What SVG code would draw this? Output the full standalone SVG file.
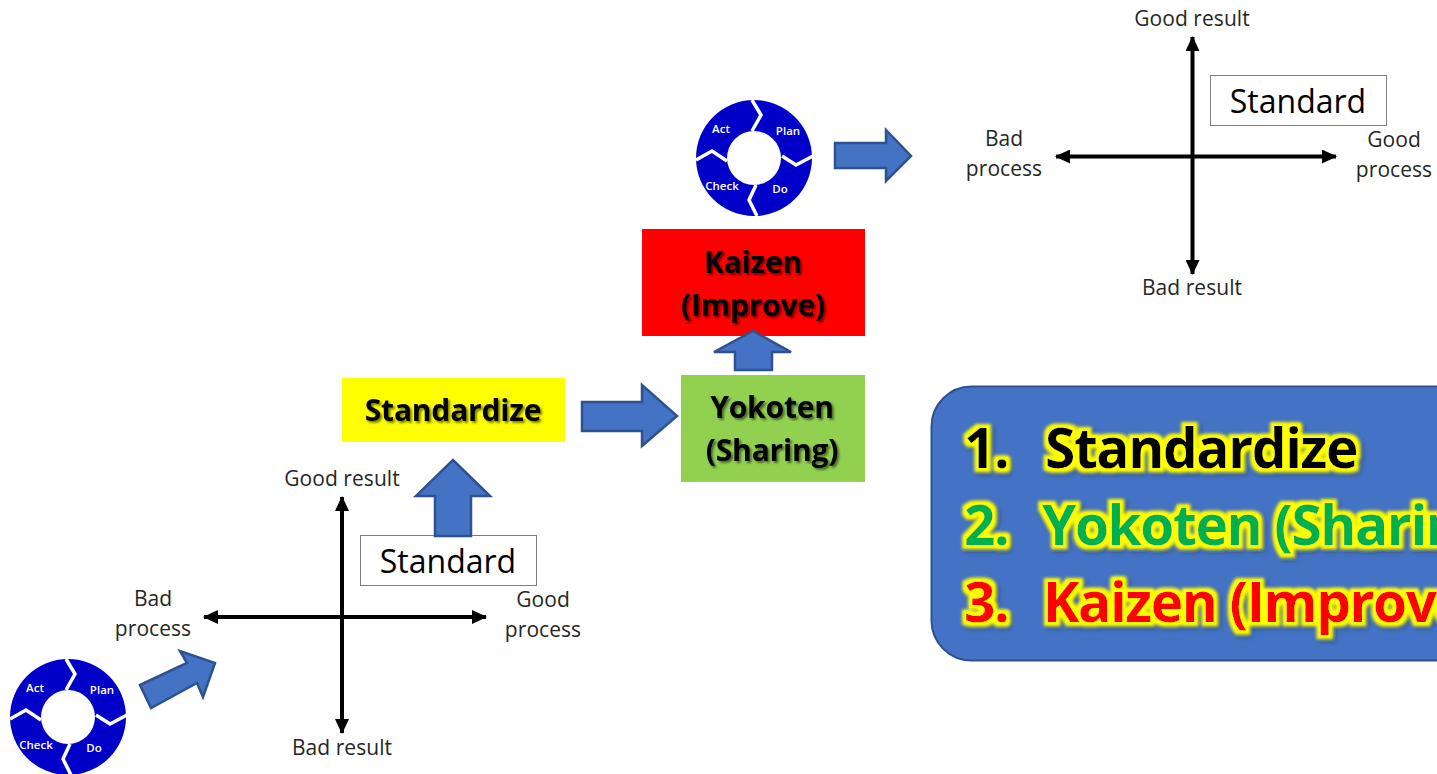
<svg xmlns="http://www.w3.org/2000/svg" width="1437" height="774" viewBox="0 0 1437 774">
<style>
text{font-family:"Open Sans","Noto Sans","Liberation Sans",sans-serif}
.ax{stroke:#000;stroke-width:4;fill:none;marker-start:url(#ah);marker-end:url(#ah)}
.blk{fill:#4472c4;stroke:#2f528f;stroke-width:2.5}
.lbl{font-size:21px;letter-spacing:.05px;fill:#262626;text-anchor:middle}
.std{font-size:32px;fill:#000;text-anchor:middle}
.nd{font-size:30px;font-weight:700;letter-spacing:-.2px;fill:#000;text-anchor:middle;filter:url(#sh)}
.big{font-size:55px;font-weight:700;letter-spacing:-1.4px;filter:url(#gl)}
.sep{fill:none;stroke:#fff;stroke-width:3.5}
.cy{font-size:11.500px;font-weight:600;fill:#fff;text-anchor:middle}
</style>
<defs>
<marker id="ah" markerUnits="userSpaceOnUse" markerWidth="16" markerHeight="14" refX="14" refY="7" orient="auto-start-reverse"><path d="M0 0L15 7L0 14Z" fill="#000"/></marker>
<filter id="sh" x="-10%" y="-20%" width="120%" height="140%"><feGaussianBlur in="SourceAlpha" stdDeviation="1.2"/><feOffset dx="1.500" dy="1.500"/><feComponentTransfer result="s"><feFuncA type="linear" slope=".5"/></feComponentTransfer><feMerge><feMergeNode in="s"/><feMergeNode in="SourceGraphic"/></feMerge></filter>
<filter id="gl" x="-10%" y="-30%" width="120%" height="160%"><feMorphology in="SourceAlpha" operator="dilate" radius="4"/><feGaussianBlur stdDeviation="1.500" result="d"/><feFlood flood-color="#ffff00"/><feComposite in2="d" operator="in" result="y"/><feGaussianBlur in="d" stdDeviation="2"/><feOffset dx="2" dy="2"/><feComponentTransfer result="s"><feFuncA type="linear" slope=".45"/></feComponentTransfer><feMerge><feMergeNode in="s"/><feMergeNode in="y"/><feMergeNode in="SourceGraphic"/></feMerge></filter>
<g id="cycle">
<path fill="#0000c8" fill-rule="evenodd" d="M-58 0A58 58 0 1 0 58 0A58 58 0 1 0 -58 0ZM-27 0A27 27 0 1 1 27 0A27 27 0 1 1 -27 0Z"/>
<path class="sep" d="M-2 -58L7 -43L-2 -27M28 -2L42 7L59 -2M2 27L-5 42L3 58M-27 3L-42 -7L-58 2"/>
<text class="cy" x="34" y="-23">Plan</text><text class="cy" x="26" y="35">Do</text><text class="cy" x="-32" y="32">Check</text><text class="cy" x="-33" y="-25">Act</text>
</g>
</defs>
<g id="cycle-1"><use href="#cycle" transform="translate(68 717)"/></g>
<g id="cycle-2"><use href="#cycle" transform="translate(754 158)"/></g>
<g id="quadrant-1">
<path class="ax" d="M342 497V733"/><path class="ax" d="M204 617H486"/>
<text class="lbl" x="342" y="486">Good result</text><text class="lbl" x="342" y="755">Bad result</text>
<text class="lbl" x="153" y="606">Bad</text><text class="lbl" x="153" y="636">process</text>
<text class="lbl" x="543" y="607">Good</text><text class="lbl" x="543" y="637">process</text>
</g>
<g id="standard-1"><rect x="360.500" y="535.500" width="176" height="50" fill="#fff" stroke="#7f7f7f"/><text class="std" x="448" y="573">Standard</text></g>
<g id="quadrant-2">
<path class="ax" d="M1192.500 37V274"/><path class="ax" d="M1056 156.500H1336"/>
<text class="lbl" x="1192" y="26">Good result</text><text class="lbl" x="1192" y="295">Bad result</text>
<text class="lbl" x="1004" y="146">Bad</text><text class="lbl" x="1004" y="176">process</text>
<text class="lbl" x="1394" y="147">Good</text><text class="lbl" x="1394" y="177">process</text>
</g>
<g id="standard-2"><rect x="1210.500" y="75.500" width="176" height="50" fill="#fff" stroke="#7f7f7f"/><text class="std" x="1298" y="113">Standard</text></g>
<g id="standardize"><rect x="342" y="378" width="223" height="64" fill="#ffff00"/><text class="nd" x="453" y="421">Standardize</text></g>
<g id="yokoten"><rect x="681" y="375" width="184" height="107" fill="#92d050"/><text class="nd" x="772" y="418">Yokoten</text><text class="nd" x="772" y="461">(Sharing)</text></g>
<g id="kaizen"><rect x="642" y="229" width="223" height="107" fill="#ff0000"/><text class="nd" x="753" y="273">Kaizen</text><text class="nd" x="753" y="316">(Improve)</text></g>
<g id="summary">
<rect x="931.500" y="386.500" width="560" height="274" rx="40" fill="#4472c4" stroke="#2f528f" stroke-width="2"/>
<text class="big" x="964" y="468" fill="#000">1.</text><text class="big" x="1045" y="468" fill="#000">Standardize</text>
<text class="big" x="964" y="545" fill="#00b050">2.</text><text class="big" x="1042" y="545" fill="#00b050">Yokoten (Sharing)</text>
<text class="big" x="964" y="622" fill="#ff0000">3.</text><text class="big" x="1043" y="622" fill="#ff0000">Kaizen (Improve)</text>
</g>
<g id="connectors">
<path id="arrow-cycle2-quad2" class="blk" d="M835 143H886V130L911 156L886 181V168H835Z"/>
<path id="arrow-std-yok" class="blk" d="M582 402H642V385L677 416L642 446V431H582Z"/>
<path id="arrow-yok-kai" class="blk" d="M735 370V352H714L753 331L791 352H772V370Z"/>
<path id="arrow-quad-std" class="blk" d="M435 536V496H416L453 460L490 496H471V536Z"/>
<path id="arrow-cycle1-quad1" class="blk" d="M140 685L187 663L180 651L215 663L203 697L197 683L151 708Z"/>
</g>
</svg>
